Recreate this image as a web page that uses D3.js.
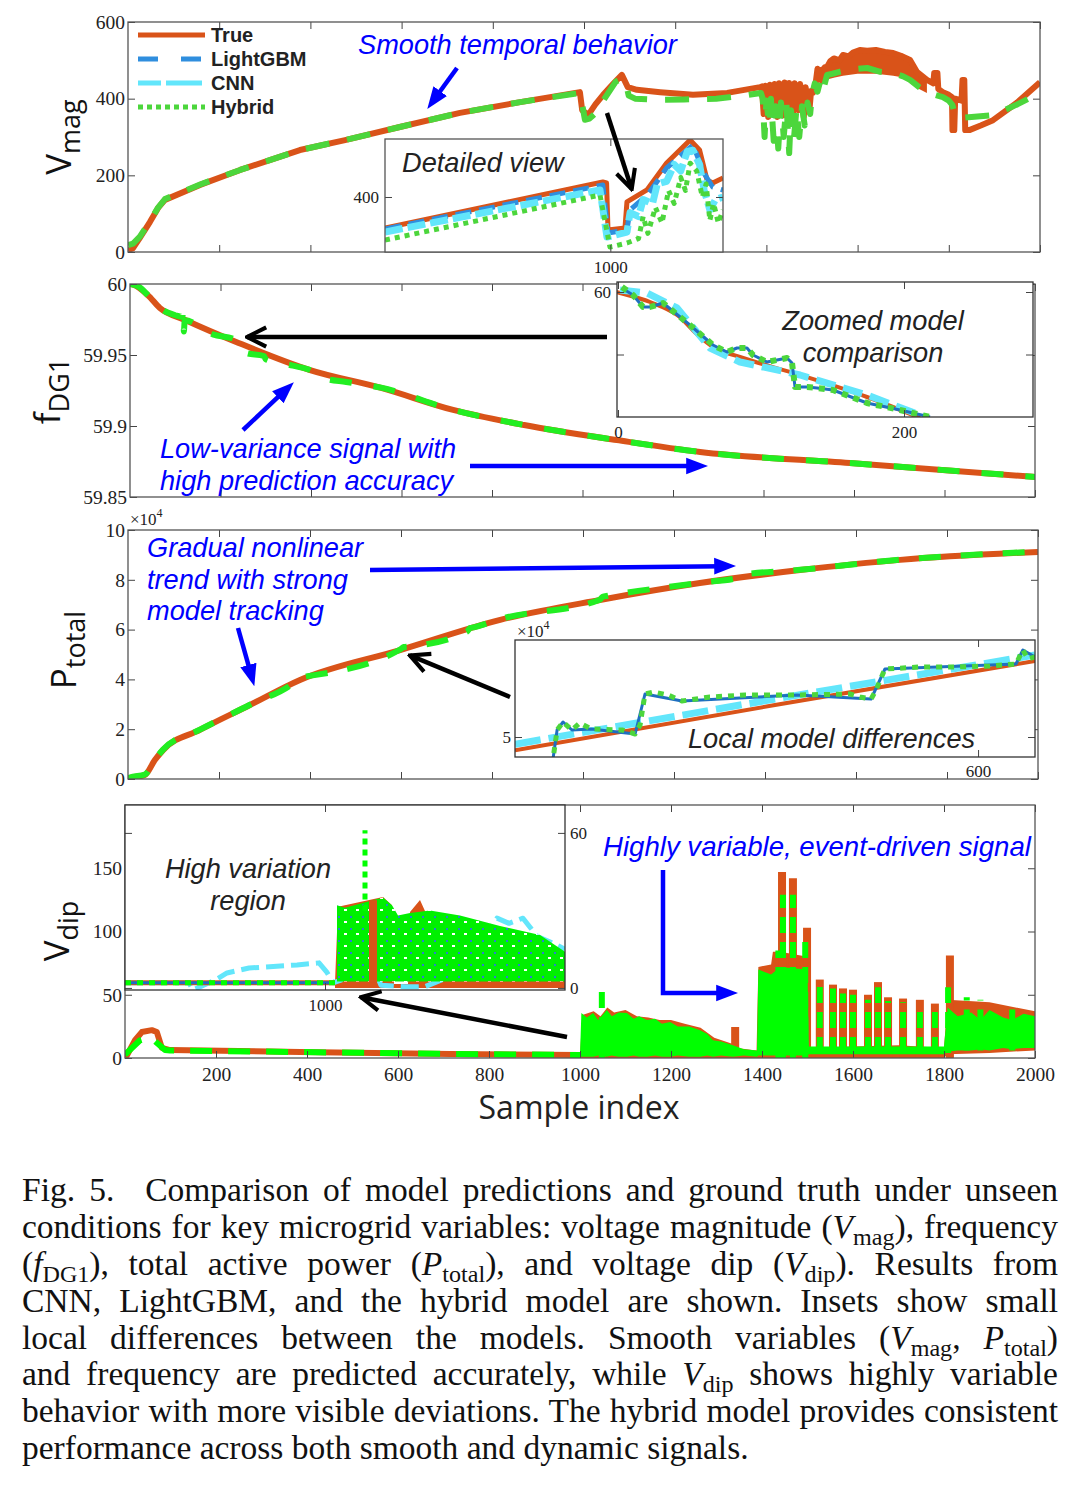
<!DOCTYPE html>
<html lang="en">
<head>
<meta charset="UTF-8">
<title>Fig. 5</title>
<style>
  *{margin:0;padding:0}
  body{width:1078px;height:1487px;background:#fff;position:relative;overflow:hidden}
  #cap{position:absolute;left:22px;top:1172px;width:1036px;font-family:"Liberation Serif","Times New Roman",serif;font-size:33.5px;color:#111}
  #cap div{height:36.9px;line-height:36.9px;text-align:justify;text-align-last:justify;white-space:nowrap}
  #cap div.last{text-align-last:left}
  #cap sub{font-size:0.72em;vertical-align:-0.28em;line-height:0}
</style>
<script src="https://cdn.jsdelivr.net/npm/d3@7/dist/d3.min.js"></script>
</head>
<body>
<svg id="mainsvg" style="position:absolute;left:0;top:0"></svg>
<div id="cap"></div>
<script>
// ---------- data (sample index, value) ----------
const sampleTicks = [200,400,600,800,1000,1200,1400,1600,1800,2000];

// V_mag main
const vmagTrue = [[0,4],[11,10],[26,37],[48,78],[66,115],[81,136],[158,175],[246,214],[377,266],[476,292],[596,326],[728,363],[860,391],[991,417],
  [996,370],[1009,357],[1025,385],[1042,410],[1065,440],[1083,462],[1096,430],[1116,423],[1167,417],[1239,410],[1314,415],[1386,430],
  [1390,432],[1394,360],[1398,434],[1404,352],[1408,436],[1414,380],[1418,438],[1424,352],[1428,440],[1436,356],[1440,442],[1446,360],[1450,441],[1458,350],[1462,440],[1470,370],[1474,438],[1482,352],[1486,430],[1494,365],[1498,420],
  [1502,415],[1508,440],[1512,478],[1518,472],[1522,445],[1528,482],[1533,483],[1540,498],[1548,505],[1560,500],[1568,514],[1580,510],[1590,520],[1605,527],[1621,525],[1640,527],[1660,522],[1678,519],[1695,512],[1715,501],[1730,470],[1752,449],[1766,440],[1768,467],[1775,467],[1777,425],[1787,417],[1800,410],[1807,404],[1808,318],[1812,318],[1814,400],[1828,395],[1830,449],[1834,449],[1836,318],[1845,318],[1870,330],[1897,344],[1950,390],[2000,443]];
const vmagTrueBand = [[1510,440,478],[1533,450,490],[1550,455,505],[1568,460,514],[1600,465,527],[1640,465,527],[1678,460,519],[1700,455,512],[1715,440,501],[1735,425,470],[1752,415,449]];
const vmagHybrid = [[0,18],[11,22],[26,40],[48,80],[66,116],[81,138],[158,176],[246,214],[377,266],[476,292],[596,326],[728,363],[860,391],[991,415],
  [996,385],[1002,345],[1012,348],[1025,362],[1045,400],[1070,445],[1083,452],[1092,440],[1098,408],[1112,400],[1160,397],[1220,398],[1290,400],[1350,408],[1388,415],
  [1392,400],[1396,300],[1400,395],[1406,330],[1410,400],[1416,290],[1420,380],[1426,270],[1432,390],[1438,300],[1444,385],[1450,258],[1454,370],[1460,290],[1466,375],[1472,300],[1478,380],[1484,330],[1490,390],[1496,360],[1500,410],
  [1506,440],[1512,418],[1520,455],[1526,430],[1533,462],[1545,465],[1560,470],[1580,475],[1600,478],[1621,480],[1650,470],[1678,467],[1700,458],[1715,449],[1735,430],[1752,417],[1770,410],[1787,404],[1800,395],[1808,383],[1815,352],[1830,350],[1850,352],[1897,357],[1950,385],[2000,415]];
// V_mag inset
const ins1True = [[760,376.2],[992,411.5],[996,410.8],[997.5,374.6],[1015.6,376.2],[1017.7,396.2],[1039,405.4],[1060,426.2],[1085,443.8],[1095,436.2],[1103,413.1],[1109,410.8],[1120,414.6]];
const ins1LightGBM = [[760,375.4],[992,409.2],[997.5,372.3],[1017.7,374.6],[1021,390],[1040,402],[1060,422.3],[1088,440],[1100,418],[1109,407.7],[1120,405.4]];
const ins1CNN = [[760,373.1],[989,405.4],[996.4,369.2],[1017.7,373],[1021,388],[1030,385],[1035,398],[1045,395],[1050,410],[1060,412],[1068,425],[1075,420],[1082,435],[1088,436],[1095,425],[1100,405],[1106,390],[1112,398],[1120,400]];
const ins1Hybrid = [[760,366.9],[989,401.5],[999.6,361.5],[1017.7,364.6],[1030,368],[1035,385],[1040,372],[1048,392],[1055,380],[1062,405],[1068,395],[1075,415],[1080,405],[1085,426],[1092,420],[1098,400],[1102,410],[1106,382],[1110,395],[1115,380],[1120,390]];

// f_DG1 main
const fdgTrue = [[0,60],[7,59.9995],[39,59.9923],[66,59.9831],[122,59.9747],[240,59.9585],[398,59.9394],[555,59.9268],[714,59.9113],[871,59.9007],[1076,59.8901],[1260,59.8817],[1591,59.8739],[2000,59.8641]];
const fdgHybrid = [[0,60],[20,59.998],[39,59.9923],[66,59.9831],[100,59.978],[116,59.9768],[117,59.981],[119,59.9665],[121,59.9745],[183,59.9645],[232,59.961],[236,59.959],[256,59.9515],[296,59.9493],[300,59.947],[360,59.9425],[398,59.9394],[430,59.9335],[478,59.931],[555,59.927],[714,59.9113],[871,59.9007],[1076,59.8901],[1260,59.8817],[1591,59.8739],[2000,59.8641]];
// f_DG1 inset
const ins2True = [[-1,60],[1.4,59.99992],[22.4,59.9992],[41.3,59.99816],[57.3,59.9964],[66.4,59.9956],[85.3,59.9948],[127.3,59.99336],[174.1,59.9916],[211.2,59.98992]];
const ins2LightGBM = [[2.8,60.0003],[10.5,59.99976],[17.5,59.9988],[22.4,59.9988],[31.5,59.99912],[50.3,59.99736],[66.4,59.99576],[76.2,59.9952],[83.2,59.99552],[90.2,59.99552],[94.4,59.99496],[104.2,59.9944],[118.2,59.99472],[121.7,59.99432],[123.8,59.9924],[132.2,59.9924],[139.2,59.99232],[150.3,59.99216],[174.1,59.99112],[197.2,59.99056],[218.2,59.99]];
const ins2CNN = [[1.4,60.00016],[20.3,59.99992],[41.3,59.99872],[64.3,59.99552],[85.3,59.9944],[127.3,59.99336],[174.1,59.99176],[214.7,59.99]];
const ins2Hybrid = [[2.8,60.0004],[10.5,59.99976],[17.5,59.9988],[22.4,59.9988],[31.5,59.99912],[50.3,59.99736],[66.4,59.99576],[76.2,59.9952],[83.2,59.99552],[90.2,59.99552],[94.4,59.99496],[104.2,59.9944],[118.2,59.99472],[121.7,59.99432],[123.8,59.9924],[132.2,59.9924],[139.2,59.99232],[150.3,59.99216],[174.1,59.99112],[197.2,59.99056],[218.2,59.99]];

// P_total main (x10^4)
const ptotTrue = [[0,0],[4,0.04],[37,0.16],[59,0.76],[77,1.16],[158,1.97],[268,2.97],[378,3.98],[598,5.18],[818,6.39],[1037,7.19],[1257,7.87],[1477,8.39],[1697,8.8],[2000,9.12]];
const ptotHybrid = [[0,0.02],[4,0.06],[37,0.18],[59,0.78],[77,1.18],[158,1.98],[268,2.98],[370,3.95],[378,4.08],[392,4.12],[598,5.2],[606,5.3],[618,5.32],[745,5.92],[752,6.06],[762,6.1],[818,6.42],[1037,7.2],[1043,7.32],[1055,7.36],[1257,7.88],[1345,8.1],[1352,8.22],[1362,8.24],[1477,8.4],[1697,8.81],[2000,9.13]];
// P_total inset
const ins3True = [[413,4.967],[518,5.08],[623,5.19]];
const ins3CNN = [[413,4.982],[518,5.095],[623,5.205]];
const ins3Hybrid = [[428,4.93],[430,5.0175],[432.4,5.0375],[436,5.0175],[439.2,5.035],[443.7,5.02],[456.2,5.0175],[461.5,5.0075],[463.5,5.03],[465.5,5.1075],[469.1,5.1125],[474.8,5.105],[480.4,5.09],[491.7,5.1],[505.9,5.105],[526.9,5.105],[548.3,5.1075],[552.3,5.1],[556.8,5.095],[558.8,5.1175],[562.4,5.17],[576.5,5.175],[590.7,5.175],[604.8,5.1775],[615.3,5.1825],[618.1,5.2175],[620.2,5.195],[623,5.2]];
const ins3LightGBM = [[428,4.93],[430,5.0175],[432.4,5.0375],[436,5.0175],[443.7,5.02],[461.5,5.0075],[465.5,5.1075],[480.4,5.09],[526.9,5.105],[556.8,5.095],[562.4,5.17],[615.3,5.1825],[618.1,5.2175],[623,5.2]];

// V_dip main: smooth part, noisy bands [x, low, high], spikes [x, low, high]
const vdipTrue = [[0,1],[4,2],[22,14],[37,20.5],[59,22],[70,20.5],[81,8],[99,6.3],[385,4.7],[714,3.2],[1000,2.4]];
const vdipHybrid = [[0,3],[4,4],[33,14],[55,16.6],[73,11],[88,6.3],[99,6],[385,4.7],[714,3.2],[1000,2.4]];
const vdipTrueBand = [[1000,0,2],[1005,0,34],[1030,0,37],[1045,0,33],[1060,0,40],[1075,0,36],[1100,0,38],[1125,0,33],[1150,0,32],[1175,0,30],[1200,0,30],[1230,0,27],[1265,0,24],[1295,0,16],[1336,0,11],[1345,0,8],[1388,0,6],[1392,0,72],[1420,0,74],[1424,0,84],[1440,0,84],[1500,0,80],[1505,0,8],[1600,0,9],[1700,0,10],[1800,0,8],[1808,3,46],[1900,4,44],[2000,6,37]];
const vdipTrueSpikes = [[1341,0,24.5],[1444,0,147],[1468,0,142],[1499,0,103],[1527,0,62],[1556,0,58],[1578,0,55],[1600,0,54],[1633,0,50],[1655,0,60],[1677,0,48],[1710,0,47],[1747,0,46],[1780,0,43],[1813,0,81]];
const vdipHybridBand = [[1000,1,2.4],[1003,1,35.6],[1015,1,32],[1029,1,35.6],[1040,2,30],[1059,1,38],[1070,2,33],[1085,1,36],[1103,1,35.6],[1118,2,31],[1130,1,33],[1147,1,30],[1165,2,31],[1180,1,27],[1198,1,28.5],[1215,2,25],[1240,1,25],[1264,1,22],[1280,2,19],[1292,1,14],[1310,2,13],[1336,1,10],[1360,2,7],[1389,1,6],[1392,2,70],[1420,2,66],[1440,2,72],[1500,2,70],[1503,3,9],[1800,3,9],[1808,5,40],[1830,6,33],[1860,6,36],[1880,7,30],[1900,6,38],[1930,8,32],[1950,7,30],[1975,8,35],[2000,8,33]];
const vdipHybridSpikes = [[1048,0,55],[1436,0,85],[1446,0,129],[1468,0,129],[1495,0,96],[1527,4,58],[1556,4,55],[1578,4,51],[1600,4,50],[1633,4,46],[1655,4,56],[1677,4,45],[1710,4,44],[1747,4,43],[1780,4,40],[1809,4,56],[1850,6,48],[1880,6,46],[1950,6,40]];
// V_dip inset
const ins4True = [[900,2],[1005,2]];
const ins4TrueBand = [[1005,0,2],[1006.5,0,31.4],[1029,0,35.2],[1033.5,0,32],[1034.5,0,1.5],[1041.5,0,1.5],[1042.5,0,29.4],[1047.5,0,34],[1051,0,28],[1052,0,3],[1100,0,3],[1115,0,6],[1120,0,8]];
const ins4TrueSpikes = [[1024,2,34]];
const ins4LightGBM = [[900,2],[1005,2]];
const ins4CNN = [[900,2],[932,2],[934,-0.8],[945,3],[951,5.8],[962,7.7],[986,8.9],[997,9.7],[1001,6],[1004,2],[1008,3],[1016,11],[1022,12],[1028,1],[1040,0.5],[1050,0.5],[1058,3],[1070,10],[1080,20],[1086,27],[1092,25],[1099,27],[1106,20],[1112,18],[1120,15]];
const ins4Hybrid = [[900,2],[1005,2]];
const ins4HybridBand = [[1006,2.5,32],[1010,2.5,31],[1029,2.5,35],[1033.5,2.5,32],[1036.5,2.5,28],[1042.5,2.5,29],[1052.5,2.5,30],[1067.5,2.5,28],[1087.5,2.5,24],[1107.5,2.5,20.5],[1120,2.5,14]];
const ins4HybridSpikes = [[1020,30,61]];

const legendNames = ['True','LightGBM','CNN','Hybrid'];

const capLines = [
  'Fig. 5.&ensp; Comparison of model predictions and ground truth under unseen',
  'conditions for key microgrid variables: voltage magnitude (<i>V</i><sub>mag</sub>), frequency',
  '(<i>f</i><sub>DG1</sub>), total active power (<i>P</i><sub>total</sub>), and voltage dip (<i>V</i><sub>dip</sub>). Results from',
  'CNN, LightGBM, and the hybrid model are shown. Insets show small',
  'local differences between the models. Smooth variables (<i>V</i><sub>mag</sub>, <i>P</i><sub>total</sub>)',
  'and frequency are predicted accurately, while <i>V</i><sub>dip</sub> shows highly variable',
  'behavior with more visible deviations. The hybrid model provides consistent',
  'performance across both smooth and dynamic signals.'
];

// ---------- setup ----------
const W = 1078, H = 1487;
const svg = d3.select('#mainsvg').attr('width', W).attr('height', H);
const defs = svg.append('defs');
const serif = '"Liberation Serif","Times New Roman",serif';
const sans = '"Liberation Sans",Arial,sans-serif';
const labelFont = '"Open Sans","Liberation Sans",sans-serif';

const cTrue = '#d95319', cLgb = '#2f8ede', cCnn = '#62e6fb', cHyb = '#4cd63c', cHybB = '#22ee22', cHybV = '#00ff00';
const stHyb = {c:cHyb, w:5, d:'5,5'};

// green dotted texture for the inset band
const pat = defs.append('pattern').attr('id','gtex').attr('patternUnits','userSpaceOnUse').attr('width',12).attr('height',12);
pat.append('rect').attr('width',12).attr('height',12).attr('fill','#00f000');
pat.append('rect').attr('x',2).attr('y',4).attr('width',2).attr('height',2).attr('fill','#2a7fd0');
pat.append('rect').attr('x',8).attr('y',9).attr('width',3).attr('height',2).attr('fill','#fff');

function scales(box, ydom, xdom) {
  const [L,R,T,B] = box;
  return { x: d3.scaleLinear().domain(xdom || [0,2000]).range([L,R]),
           y: d3.scaleLinear().domain(ydom).range([B,T]), box };
}
let clipN = 0;
function clipped(sc, bg) {
  const [L,R,T,B] = sc.box, id = 'clip' + (clipN++);
  defs.append('clipPath').attr('id', id).append('rect').attr('x',L).attr('y',T).attr('width',R-L).attr('height',B-T);
  if (bg) svg.append('rect').attr('x',L).attr('y',T).attr('width',R-L).attr('height',B-T).attr('fill','#fff');
  return svg.append('g').attr('clip-path', `url(#${id})`);
}
function drawSeries(g, sc, data, st, curve) {
  g.append('path').datum(data)
    .attr('fill','none').attr('stroke',st.c).attr('stroke-width',st.w)
    .attr('stroke-dasharray',st.d || null).attr('stroke-linejoin','round')
    .attr('d', d3.line().curve(curve || d3.curveLinear).x(d => sc.x(d[0])).y(d => sc.y(d[1])));
}
function drawBand(g, sc, data, fill) {
  g.append('path').datum(data).attr('fill',fill)
    .attr('d', d3.area().x(d => sc.x(d[0])).y0(d => sc.y(d[1])).y1(d => sc.y(d[2])));
}
function drawSpikes(g, sc, data, st) {
  g.selectAll(null).data(data).join('line')
    .attr('x1', d => sc.x(d[0])).attr('x2', d => sc.x(d[0]))
    .attr('y1', d => sc.y(d[1])).attr('y2', d => sc.y(d[2]))
    .attr('stroke',st.c).attr('stroke-width',st.w).attr('stroke-dasharray',st.d || null);
}

function styleAxis(sel, size) {
  sel.select('.domain').remove();
  sel.selectAll('line').attr('stroke','#444').attr('stroke-width',1);
  sel.selectAll('text').attr('font-family',serif).attr('font-size',size || 19).attr('fill','#222');
}
const blank = () => '';
function axes(sc, o) {
  const [L,R,T,B] = sc.box, g = svg.append('g'), tk = o.tick || 7;
  const ylab = o.ylab || String, xlab = o.xlab || String;
  if (o.yticks) {
    g.append('g').attr('transform',`translate(${L},0)`)
      .call(d3.axisLeft(sc.y).tickValues(o.yticks).tickSize(-tk).tickPadding(o.ypad || 3).tickFormat(o.yside === 'right' ? blank : ylab))
      .call(s => styleAxis(s, o.fs));
    g.append('g').attr('transform',`translate(${R},0)`)
      .call(d3.axisRight(sc.y).tickValues(o.yticks).tickSize(-tk).tickPadding(o.ypad || 3).tickFormat(o.yside === 'right' ? ylab : blank))
      .call(s => styleAxis(s, o.fs));
  }
  if (o.xticks) {
    g.append('g').attr('transform',`translate(0,${B})`)
      .call(d3.axisBottom(sc.x).tickValues(o.xticks).tickSize(-tk).tickPadding(o.xpad || 8).tickFormat(o.xlabels ? xlab : blank))
      .call(s => styleAxis(s, o.fs));
    g.append('g').attr('transform',`translate(0,${T})`)
      .call(d3.axisTop(sc.x).tickValues(o.xticks).tickSize(-tk).tickFormat(blank))
      .call(s => styleAxis(s, o.fs));
  }
  g.append('rect').attr('x',L).attr('y',T).attr('width',R-L).attr('height',B-T)
    .attr('fill','none').attr('stroke', o.frame || '#555').attr('stroke-width', 1.3);
  return g;
}
function yLabel(x, y, main, sub) {
  const t = svg.append('text').attr('transform',`translate(${x},${y}) rotate(-90)`)
    .attr('text-anchor','middle').attr('font-family',labelFont).attr('fill','#111');
  t.append('tspan').attr('font-size',35).text(main);
  t.append('tspan').attr('font-size',27).attr('dy',9).text(sub);
}
function times10(x, y) {
  const t = svg.append('text').attr('x',x).attr('y',y).attr('font-family',serif).attr('font-size',17).attr('fill','#222');
  t.append('tspan').text('\u00d710');
  t.append('tspan').attr('font-size',12).attr('dy',-8).text('4');
}

// ---------- panel 1 : V_mag ----------
const s1 = scales([128,1040,22,252], [0,600]);
const g1 = clipped(s1);
drawBand(g1, s1, vmagTrueBand, cTrue);
drawSeries(g1, s1, vmagTrue, {c:cTrue, w:6});
drawSeries(g1, s1, vmagHybrid, {c:cHyb, w:6, d:'24,18'});
axes(s1, {yticks:[0,200,400,600], xticks:sampleTicks, fs:19.5});
yLabel(71, 137, 'V', 'mag');

// legend
const lg = svg.append('g');
const legStyle = {True:{c:cTrue,w:5}, LightGBM:{c:cLgb,w:5,d:'20,23'}, CNN:{c:cCnn,w:5,d:'23,5,36,5'}, Hybrid:{c:cHyb,w:5,d:'5,4'}};
lg.selectAll('line').data(legendNames).join('line')
  .attr('x1',138).attr('x2',205).attr('y1',(d,i) => 35 + i*24).attr('y2',(d,i) => 35 + i*24)
  .attr('stroke',d => legStyle[d].c).attr('stroke-width',d => legStyle[d].w).attr('stroke-dasharray',d => legStyle[d].d || null);
lg.selectAll('text').data(legendNames).join('text')
  .attr('x',211).attr('y',(d,i) => 42 + i*24).text(d => d)
  .attr('font-family',sans).attr('font-weight','bold').attr('font-size',20).attr('fill','#222');

// inset 1
const i1 = scales([385,723,139,252], [357.7,444.6], [760,1120]);
const gi1 = clipped(i1, true);
drawSeries(gi1, i1, ins1True, {c:cTrue, w:5});
drawSeries(gi1, i1, ins1LightGBM, {c:cLgb, w:5, d:'16,8'});
drawSeries(gi1, i1, ins1CNN, {c:cCnn, w:7, d:'18,5'});
drawSeries(gi1, i1, ins1Hybrid, stHyb);
axes(i1, {yticks:[400], xticks:[1000], xlabels:true, fs:17, ypad:6, xpad:9});

// ---------- panel 2 : f_DG1 ----------
const s2 = scales([130,1035,284,497], [59.85,60]);
const g2 = clipped(s2);
drawSeries(g2, s2, fdgTrue, {c:cTrue, w:6}, d3.curveMonotoneX);
drawSeries(g2, s2, fdgHybrid, {c:cHybB, w:6, d:'22,22'}, d3.curveMonotoneX);
axes(s2, {yticks:[59.85,59.9,59.95,60], xticks:sampleTicks, fs:19.5});
yLabel(60, 391, 'f', 'DG1');

const i2 = scales([617,1033,282,417], [59.99,60.0008], [-0.7,290.2]);
const gi2 = clipped(i2, true);
drawSeries(gi2, i2, ins2True, {c:cTrue, w:4}, d3.curveMonotoneX);
drawSeries(gi2, i2, ins2CNN, {c:cCnn, w:7, d:'20,8'});
drawSeries(gi2, i2, ins2LightGBM, {c:'#1f6fc0', w:3});
drawSeries(gi2, i2, ins2Hybrid, {c:cHyb, w:6, d:'6,6'});
axes(i2, {yticks:[59.995,60], ylab:d => d === 60 ? '60' : '', xticks:[0,200], xlabels:true, fs:17, ypad:6, xpad:9, frame:'#333'});

// ---------- panel 3 : P_total ----------
const s3 = scales([128,1038,530,779], [0,10]);
const g3 = clipped(s3);
drawSeries(g3, s3, ptotTrue, {c:cTrue, w:6}, d3.curveMonotoneX);
drawSeries(g3, s3, ptotHybrid, {c:cHybB, w:6, d:'22,20'}, d3.curveMonotoneX);
axes(s3, {yticks:[0,2,4,6,8,10], xticks:sampleTicks, fs:19.5});
times10(130, 525);
yLabel(76, 650, 'P', 'total');

const i3 = scales([515,1035,640,757], [4.95,5.2425], [413,623]);
const gi3 = clipped(i3, true);
drawSeries(gi3, i3, ins3True, {c:cTrue, w:4});
drawSeries(gi3, i3, ins3CNN, {c:cCnn, w:7, d:'26,8'});
drawSeries(gi3, i3, ins3LightGBM, {c:'#1f6fc0', w:3});
drawSeries(gi3, i3, ins3Hybrid, {c:cHyb, w:5, d:'6,6'});
axes(i3, {yticks:[5], xticks:[600], xlabels:true, fs:17, ypad:4, xpad:8, frame:'#333'});
times10(517, 637);

// ---------- panel 4 : V_dip ----------
const s4 = scales([125,1035,805,1058], [0,200]);
const g4 = clipped(s4);
drawBand(g4, s4, vdipTrueBand, cTrue);
drawSpikes(g4, s4, vdipTrueSpikes, {c:cTrue, w:8});
drawBand(g4, s4, vdipHybridBand, cHybV);
drawSpikes(g4, s4, vdipHybridSpikes, {c:cHybV, w:6, d:'16,9'});
drawSeries(g4, s4, vdipTrue, {c:cTrue, w:6});
drawSeries(g4, s4, vdipHybrid, {c:cHybV, w:6, d:'22,16'});
axes(s4, {yticks:[0,50,100,150], xticks:sampleTicks, xlabels:true, xpad:9, fs:19.5});
yLabel(69, 931, 'V', 'dip');
svg.append('text').attr('x',579).attr('y',1119).attr('text-anchor','middle')
  .attr('font-family',labelFont).attr('font-size',32).attr('fill','#222').text('Sample index');

const i4 = scales([125,565,805,990], [-0.8,70.8], [900,1120]);
const gi4 = clipped(i4, true);
drawBand(gi4, i4, ins4TrueBand, cTrue);
drawSeries(gi4, i4, ins4CNN, {c:cCnn, w:5, d:'18,7'});
drawBand(gi4, i4, ins4HybridBand, 'url(#gtex)');
drawSpikes(gi4, i4, ins4TrueSpikes, {c:cTrue, w:8});
drawSpikes(gi4, i4, ins4HybridSpikes, {c:cHybV, w:5, d:'6,5'});
drawSeries(gi4, i4, ins4True, {c:cTrue, w:5});
drawSeries(gi4, i4, ins4LightGBM, {c:'#1f6fc0', w:3});
drawSeries(gi4, i4, ins4Hybrid, {c:cHybV, w:5, d:'6,6'});
axes(i4, {yticks:[0,60], yside:'right', xticks:[1000], xlabels:true, fs:17, ypad:5, xpad:9, frame:'#333'});

// ---------- annotations ----------
function marker(id, color, open) {
  const m = defs.append('marker').attr('id',id).attr('viewBox','0 0 10 10')
    .attr('refX', open ? 9 : 4).attr('refY',5).attr('markerUnits','userSpaceOnUse')
    .attr('markerWidth', open ? 24 : 22).attr('markerHeight', open ? 24 : 22).attr('orient','auto');
  if (open) m.append('path').attr('d','M1,1 L9,5 L1,9').attr('fill','none').attr('stroke',color).attr('stroke-width',1.7);
  else m.append('path').attr('d','M0,1.2 L10,5 L0,8.8 z').attr('fill',color);
}
marker('mBlue','#0000ff',false);
marker('mBlack','#000',true);
function arrow(pts, color) {
  const open = color !== '#0000ff', n = pts.length;
  const [x1,y1] = pts[n-2], [x2,y2] = pts[n-1], len = Math.hypot(x2-x1, y2-y1), back = open ? 1 : 12;
  const p = pts.slice(0, n-1).concat([[x2 - (x2-x1)/len*back, y2 - (y2-y1)/len*back]]);
  svg.append('path').attr('d', d3.line()(p)).attr('fill','none').attr('stroke',color)
    .attr('stroke-width',4.5).attr('marker-end', `url(#${open ? 'mBlack' : 'mBlue'})`);
}
const arrows = [
  {p:[[457,68],[428,108]], c:'#0000ff'},
  {p:[[607,113],[632,190]], c:'#000'},
  {p:[[607,337],[246,337]], c:'#000'},
  {p:[[243,430],[293,383]], c:'#0000ff'},
  {p:[[470,466],[707,466]], c:'#0000ff'},
  {p:[[370,570],[735,566]], c:'#0000ff'},
  {p:[[238,628],[254,685]], c:'#0000ff'},
  {p:[[510,697],[409,655]], c:'#000'},
  {p:[[663,870],[663,993],[737,993]], c:'#0000ff'},
  {p:[[567,1037],[360,997]], c:'#000'}
];
arrows.forEach(a => arrow(a.p, a.c));

const blue = '#0000ff', dark = '#222';
const notes = [
  {t:'Smooth temporal behavior', x:358, y:54, c:blue},
  {t:'Detailed view', x:402, y:172, c:dark},
  {t:'Zoomed model', x:873, y:330, c:dark, a:'middle'},
  {t:'comparison', x:873, y:362, c:dark, a:'middle'},
  {t:'Low-variance signal with', x:160, y:458, c:blue},
  {t:'high prediction accuracy', x:160, y:490, c:blue},
  {t:'Gradual nonlinear', x:147, y:557, c:blue},
  {t:'trend with strong', x:147, y:589, c:blue},
  {t:'model tracking', x:147, y:620, c:blue},
  {t:'Local model differences', x:688, y:748, c:dark},
  {t:'High variation', x:248, y:878, c:dark, a:'middle'},
  {t:'region', x:248, y:910, c:dark, a:'middle'},
  {t:'Highly variable, event-driven signal', x:603, y:856, c:blue, s:27.6}
];
svg.append('g').selectAll('text').data(notes).join('text')
  .attr('x', d => d.x).attr('y', d => d.y).attr('text-anchor', d => d.a || 'start')
  .attr('font-family', sans).attr('font-style','italic').attr('font-size', d => d.s || 27.2)
  .attr('fill', d => d.c).text(d => d.t);

// ---------- caption ----------
d3.select('#cap').selectAll('div').data(capLines).join('div')
  .attr('class', (d,i) => i === capLines.length - 1 ? 'last' : null)
  .html(d => d);
</script>
</body>
</html>
